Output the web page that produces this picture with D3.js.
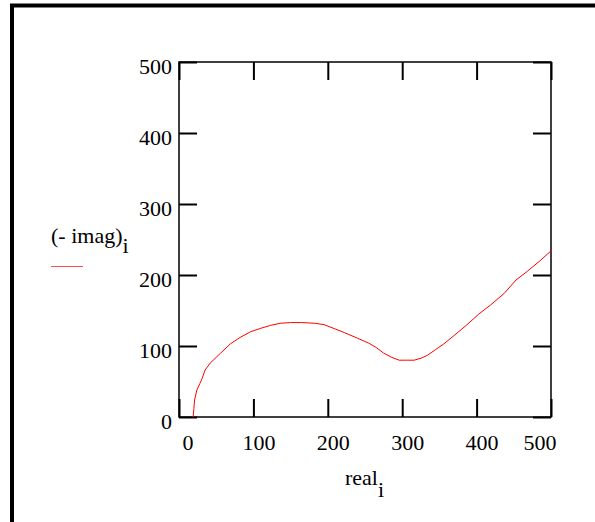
<!DOCTYPE html>
<html>
<head>
<meta charset="utf-8">
<script src="https://cdn.jsdelivr.net/npm/d3@7"></script>
<style>
  body { margin: 0; background: #fff; }
  svg { display: block; }
  text { font-family: "Liberation Serif", "Times New Roman", serif; fill: #000; }
</style>
</head>
<body>
<svg id="vis"></svg>
<script>
// values
const realVals = [19, 20, 21, 24, 28, 31, 35, 42, 50, 56, 69, 82, 96, 110, 123, 136, 150, 165, 183, 195,
  210, 222, 240, 255, 265, 275, 286, 296, 306, 316, 326, 334, 345, 356, 370, 386, 403, 419, 437, 453,
  468, 484, 499, 501]
const negImagVals = [0, 12, 24, 38, 47, 54, 66, 76, 84, 90, 103, 112, 120, 125, 129, 132, 133, 133, 132, 130,
  124, 119, 111, 104, 98, 90, 84, 80, 80, 80, 83, 87, 95, 103, 115, 129, 145, 158, 174, 193,
  205, 219, 233, 235]
const xTicks = [0, 100, 200, 300, 400, 500]
const yTicks = [0, 100, 200, 300, 400, 500]

const W = 595, H = 522
const box = {left: 179, right: 551, top: 62, bottom: 417}

const svg = d3.select("#vis").attr("width", W).attr("height", H)

// outer frame (left and top edges only visible)
svg.append("path")
  .attr("d", `M12,${H} L12,5.5 L${W},5.5`)
  .attr("fill", "none")
  .attr("stroke", "#000")
  .attr("stroke-width", 4)

const x = d3.scaleLinear().domain([0, 500]).range([box.left, box.right])
const y = d3.scaleLinear().domain([0, 500]).range([box.bottom, box.top])

const tickLen = 18

// bottom axis with labels
const gx = svg.append("g")
  .attr("transform", `translate(0,${box.bottom})`)
  .call(d3.axisBottom(x).tickValues(xTicks).tickSizeInner(-tickLen).tickSizeOuter(0).tickFormat(d3.format("d")))
gx.selectAll("text")
  .attr("y", 33).attr("dy", null)
  .style("font-size", "22px")
  .attr("text-anchor", d => d === 0 ? "start" : d === 500 ? "end" : "middle")
  .attr("x", d => d === 0 ? 3 : d === 500 ? 5 : 5)

// top axis, ticks only
svg.append("g")
  .attr("transform", `translate(0,${box.top})`)
  .call(d3.axisTop(x).tickValues(xTicks).tickSizeInner(-tickLen).tickSizeOuter(0).tickFormat(""))

// left axis with labels
const gy = svg.append("g")
  .attr("transform", `translate(${box.left},0)`)
  .call(d3.axisLeft(y).tickValues(yTicks).tickSizeInner(-tickLen).tickSizeOuter(0).tickFormat(d3.format("d")))
gy.selectAll("text")
  .attr("x", -7).attr("dy", null).attr("y", 11.5)
  .style("font-size", "22px")
  .attr("text-anchor", "end")

// right axis, ticks only
svg.append("g")
  .attr("transform", `translate(${box.right},0)`)
  .call(d3.axisRight(y).tickValues(yTicks).tickSizeInner(-tickLen).tickSizeOuter(0).tickFormat(""))

svg.selectAll(".domain").remove()
svg.selectAll(".tick line").attr("stroke", "#000").attr("stroke-width", 2)

// plot box
svg.append("rect")
  .attr("x", box.left).attr("y", box.top)
  .attr("width", box.right - box.left).attr("height", box.bottom - box.top)
  .attr("fill", "none").attr("stroke", "#000").attr("stroke-width", 1.5)

// curve
const pts = realVals.map((r, i) => [r, negImagVals[i]])
const line = d3.line().x(d => x(d[0])).y(d => y(d[1]))
svg.append("path")
  .datum(pts)
  .attr("fill", "none")
  .attr("stroke", "#ff0000")
  .attr("stroke-width", 1)
  .attr("d", line)

// x axis title: real with subscript i
const xt = svg.append("text").attr("x", 345).attr("y", 485).style("font-size", "22px")
xt.append("tspan").text("real")
xt.append("tspan").attr("dy", 12).text("i")

// y legend: (- imag) with subscript i and a red sample line
const yt = svg.append("text").attr("x", 51).attr("y", 243).style("font-size", "22px")
yt.append("tspan").text("(- imag)")
yt.append("tspan").attr("dy", 10).text("i")

svg.append("line")
  .attr("x1", 51).attr("x2", 83).attr("y1", 266.5).attr("y2", 266.5)
  .attr("stroke", "#ff0000").attr("stroke-width", 1).attr("stroke-opacity", 0.7)
</script>
</body>
</html>
